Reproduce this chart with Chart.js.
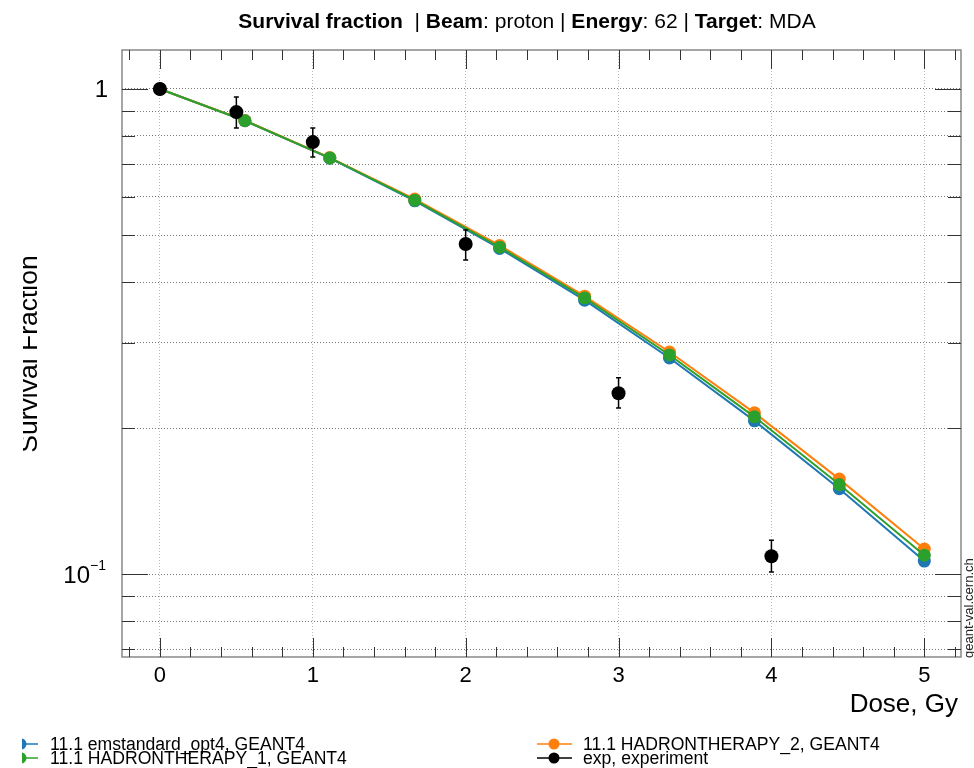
<!DOCTYPE html>
<html>
<head>
<meta charset="utf-8">
<title>Survival fraction</title>
<script src="https://cdn.jsdelivr.net/npm/chart.js@4.4.1/dist/chart.umd.min.js"></script>
<style>
  html, body { margin: 0; padding: 0; background: #fff; }
  #wrap { position: relative; width: 974px; height: 768px; }
</style>
</head>
<body>
<div id="wrap"><canvas id="chart" width="974" height="768"></canvas></div>
<script>
// data
const modelDose = [0, 0.556, 1.111, 1.667, 2.222, 2.778, 3.333, 3.889, 4.444, 5];
const emstandard = [1, 0.860, 0.720, 0.588, 0.469, 0.367, 0.279, 0.207, 0.150, 0.1064];
const hadron1 = [1, 0.860, 0.721, 0.590, 0.472, 0.371, 0.283, 0.211, 0.153, 0.1094];
const hadron2 = [1, 0.861, 0.722, 0.593, 0.476, 0.374, 0.287, 0.215, 0.157, 0.1127];

const expDose = [0, 0.5, 1, 2, 3, 4];
const expSF = [1, 0.896, 0.777, 0.479, 0.236, 0.1089];
const expLow = [1, 0.831, 0.724, 0.444, 0.220, 0.101];
const expHigh = [1, 0.962, 0.831, 0.512, 0.254, 0.1175];

const xTickLabels = [0, 1, 2, 3, 4, 5];
const yGridValues = [0.07, 0.08, 0.09, 0.1, 0.2, 0.3, 0.4, 0.5, 0.6, 0.7, 0.8, 0.9, 1];
const yLabelled = [0.1, 1];

const legendItems = [
  { text: '11.1 emstandard_opt4, GEANT4', color: '#1f77b4', col: 0, row: 0 },
  { text: '11.1 HADRONTHERAPY_1, GEANT4', color: '#2ca02c', col: 0, row: 1 },
  { text: '11.1 HADRONTHERAPY_2, GEANT4', color: '#ff7f0e', col: 1, row: 0 },
  { text: 'exp, experiment', color: '#000000', col: 1, row: 1 }
];

const FONT = '"Liberation Sans", Arial, Helvetica, sans-serif';

function pts(xs, ys) {
  return xs.map((x, i) => ({ x: x, y: ys[i] }));
}

// frame, ticks, error bars, labels, legend
const decor = {
  id: 'decor',
  afterDatasetsDraw(chart) {
    const ctx = chart.ctx;
    const xs = chart.scales.x, ys = chart.scales.y;

    // error bars
    ctx.save();
    ctx.strokeStyle = '#000';
    ctx.lineWidth = 1.5;
    expDose.forEach((d, i) => {
      if (expHigh[i] === expLow[i]) return;
      const px = xs.getPixelForValue(d);
      const y1 = ys.getPixelForValue(expLow[i]);
      const y2 = ys.getPixelForValue(expHigh[i]);
      ctx.beginPath();
      ctx.moveTo(px, y1); ctx.lineTo(px, y2);
      ctx.moveTo(px - 2.5, y1); ctx.lineTo(px + 2.5, y1);
      ctx.moveTo(px - 2.5, y2); ctx.lineTo(px + 2.5, y2);
      ctx.stroke();
    });
    ctx.restore();
  },
  afterDraw(chart) {
    const ctx = chart.ctx;
    const xs = chart.scales.x, ys = chart.scales.y;
    const a = chart.chartArea;
    ctx.save();

    // frame
    ctx.strokeStyle = '#888';
    ctx.lineWidth = 1.5;
    ctx.strokeRect(a.left, a.top, a.right - a.left, a.bottom - a.top);

    // ticks on all four sides
    ctx.strokeStyle = '#333';
    ctx.lineWidth = 1;
    ctx.beginPath();
    for (let i = -1; i <= 26; i++) {
      const v = i / 5;
      const px = Math.round(xs.getPixelForValue(v)) + 0.5;
      if (px < a.left || px > a.right) continue;
      const len = (i % 5 === 0) ? 19 : 10;
      ctx.moveTo(px, a.top); ctx.lineTo(px, a.top + len);
      ctx.moveTo(px, a.bottom); ctx.lineTo(px, a.bottom - len);
    }
    yGridValues.forEach(v => {
      const py = Math.round(ys.getPixelForValue(v)) + 0.5;
      const len = yLabelled.includes(v) ? 26 : 13;
      ctx.moveTo(a.left, py); ctx.lineTo(a.left + len, py);
      ctx.moveTo(a.right, py); ctx.lineTo(a.right - len, py);
    });
    ctx.stroke();

    // y tick labels
    ctx.fillStyle = '#000';
    ctx.textBaseline = 'middle';
    ctx.textAlign = 'right';
    ctx.font = '24px ' + FONT;
    ctx.fillText('1', 108, ys.getPixelForValue(1) + 1);
    const p01 = ys.getPixelForValue(0.1);
    ctx.font = '14px ' + FONT;
    ctx.fillText('\u22121', 106, p01 - 8);
    const supW = ctx.measureText('\u22121').width;
    ctx.font = '24px ' + FONT;
    ctx.fillText('10', 106 - supW, p01 + 2);

    // x axis title
    ctx.textAlign = 'right';
    ctx.textBaseline = 'alphabetic';
    ctx.font = '26px ' + FONT;
    ctx.fillText('Dose, Gy', 958, 712);

    // y axis title, clipped at the left like the original
    ctx.save();
    ctx.beginPath();
    ctx.rect(23, 0, 100, 768);
    ctx.clip();
    ctx.translate(37, 354);
    ctx.rotate(-Math.PI / 2);
    ctx.textAlign = 'center';
    ctx.font = '26.5px ' + FONT;
    ctx.fillText('Survival Fraction', 0, 0);
    ctx.restore();

    // watermark on the right
    ctx.save();
    ctx.translate(973, 658);
    ctx.rotate(-Math.PI / 2);
    ctx.textAlign = 'left';
    ctx.font = '13px ' + FONT;
    ctx.fillStyle = '#222';
    ctx.fillText('geant-val.cern.ch', 0, 0);
    ctx.restore();

    // title with bold keys
    const parts = [
      ['Survival fraction', true], ['  | ', false], ['Beam', true], [': proton | ', false],
      ['Energy', true], [': 62 | ', false], ['Target', true], [': MDA', false]
    ];
    const tf = '21px ' + FONT;
    let total = 0;
    parts.forEach(p => {
      ctx.font = (p[1] ? 'bold ' : '') + tf;
      total += ctx.measureText(p[0]).width;
    });
    let tx = 527 - total / 2;
    ctx.textAlign = 'left';
    parts.forEach(p => {
      ctx.font = (p[1] ? 'bold ' : '') + tf;
      ctx.fillText(p[0], tx, 28);
      tx += ctx.measureText(p[0]).width;
    });

    // legend
    ctx.font = '17.6px ' + FONT;
    ctx.textBaseline = 'middle';
    legendItems.forEach(it => {
      const y = 744 + it.row * 14;
      ctx.strokeStyle = it.color;
      ctx.fillStyle = it.color;
      ctx.lineWidth = 1.5;
      if (it.col === 0) {
        ctx.beginPath();
        ctx.moveTo(22, y); ctx.lineTo(38, y);
        ctx.stroke();
        ctx.save();
        ctx.beginPath();
        ctx.rect(22, y - 8, 20, 16);
        ctx.clip();
        ctx.beginPath();
        ctx.arc(21, y, 5.5, 0, Math.PI * 2);
        ctx.fill();
        ctx.restore();
        ctx.fillStyle = '#000';
        ctx.textAlign = 'left';
        ctx.fillText(it.text, 50, y + 1);
      } else {
        ctx.beginPath();
        ctx.moveTo(537, y); ctx.lineTo(572, y);
        ctx.stroke();
        ctx.beginPath();
        ctx.arc(554, y, 5.5, 0, Math.PI * 2);
        ctx.fill();
        ctx.fillStyle = '#000';
        ctx.textAlign = 'left';
        ctx.fillText(it.text, 583, y + 1);
      }
    });

    ctx.restore();
  }
};

function modelSet(label, ys, color, order) {
  return {
    label: label,
    data: pts(modelDose, ys),
    borderColor: color,
    backgroundColor: color,
    borderWidth: 2,
    pointRadius: 6.5,
    pointBorderWidth: 0,
    showLine: true,
    order: order
  };
}

new Chart(document.getElementById('chart'), {
  type: 'scatter',
  data: {
    datasets: [
      {
        label: 'exp, experiment',
        data: pts(expDose, expSF),
        backgroundColor: '#000',
        borderColor: '#000',
        pointRadius: 7,
        pointBorderWidth: 0,
        showLine: false,
        order: 0
      },
      modelSet('11.1 HADRONTHERAPY_1, GEANT4', hadron1, '#2ca02c', 1),
      modelSet('11.1 HADRONTHERAPY_2, GEANT4', hadron2, '#ff7f0e', 2),
      modelSet('11.1 emstandard_opt4, GEANT4', emstandard, '#1f77b4', 3)
    ]
  },
  options: {
    responsive: false,
    devicePixelRatio: 1,
    animation: false,
    layout: { padding: { left: 0, top: 50, right: 13, bottom: 71 } },
    plugins: {
      legend: { display: false },
      tooltip: { enabled: false },
      title: { display: false }
    },
    scales: {
      x: {
        type: 'linear',
        min: -0.248,
        max: 5.24,
        afterBuildTicks: s => { s.ticks = xTickLabels.map(v => ({ value: v })); },
        afterFit: s => { s.height = 40; },
        grid: { color: '#bbb', lineWidth: 1, drawTicks: false },
        border: { display: false, dash: [1, 2] },
        ticks: {
          color: '#000',
          padding: 6,
          maxRotation: 0,
          autoSkip: false,
          font: { family: FONT, size: 22 }
        }
      },
      y: {
        type: 'logarithmic',
        min: 0.0675,
        max: 1.203,
        afterBuildTicks: s => { s.ticks = yGridValues.map(v => ({ value: v })); },
        afterFit: s => { s.width = 122; },
        grid: { color: '#777', lineWidth: 1, drawTicks: false },
        border: { display: false, dash: [1, 2] },
        ticks: { display: false }
      }
    }
  },
  plugins: [decor]
});
</script>
</body>
</html>
